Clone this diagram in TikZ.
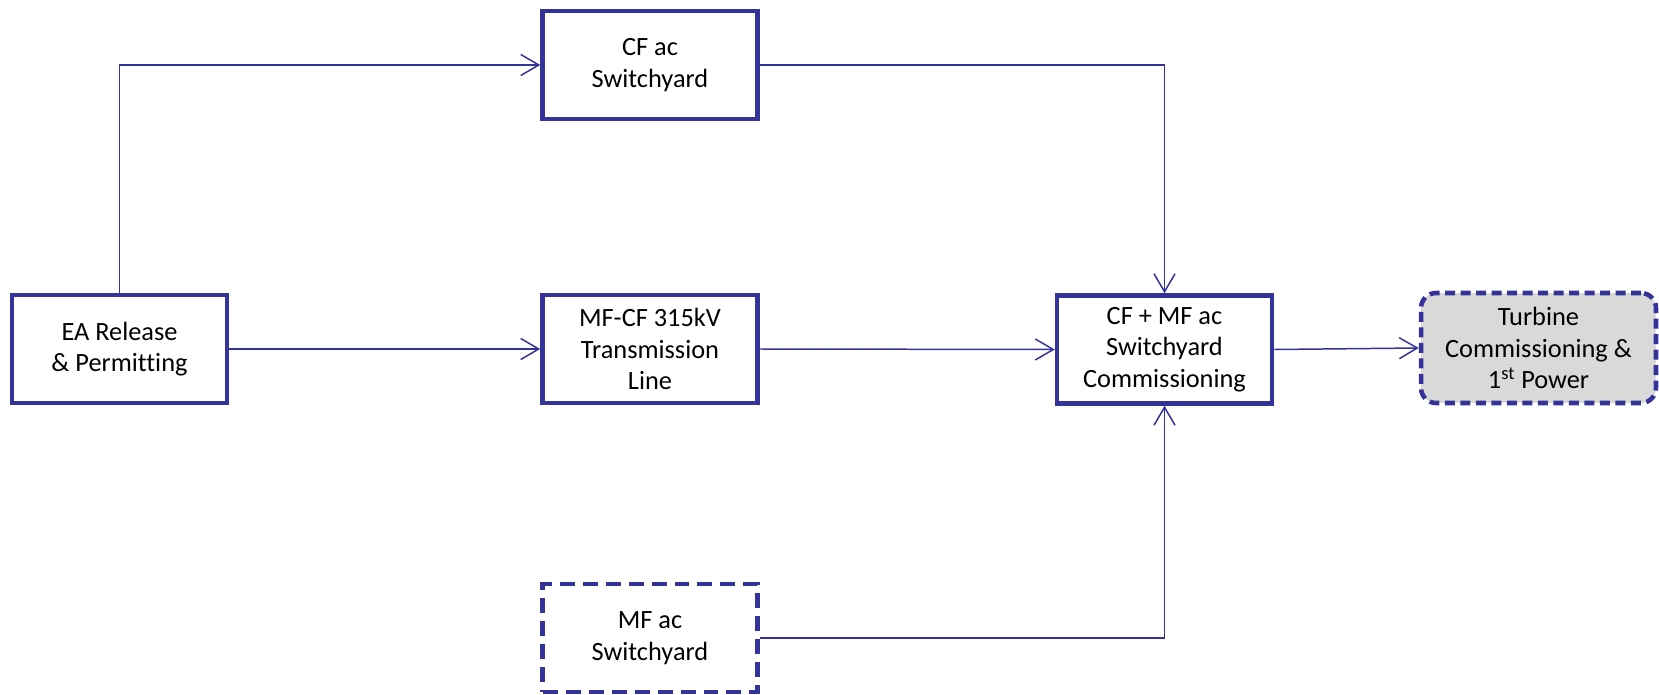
\documentclass[tikz,border=0pt]{standalone}
\usepackage{fontspec}
\setmainfont[Ligatures=NoCommon]{Carlito}
\usepackage{tikz}
\usetikzlibrary{arrows.meta}
\definecolor{boxblue}{RGB}{51,51,153}
\definecolor{boxgray}{RGB}{217,217,217}
\tikzset{
  blk/.style={draw=boxblue, line width=2.6pt, fill=white, align=center,
    minimum width=4.3cm, minimum height=2.16cm, inner sep=2pt,
    font=\fontsize{15}{18}\selectfont},
  dashblk/.style={blk, dash pattern=on 0.3cm off 0.16cm},
  endblk/.style={blk, fill=boxgray, rounded corners=0.3cm,
    minimum width=4.7cm, minimum height=2.2cm, dash pattern=on 0.2cm off 0.11cm},
  link/.style={draw=boxblue, line width=0.85pt,
    -{Straight Barb[length=0.36cm, width=0.42cm, line width=0.85pt]}}
}

\begin{document}
\begin{tikzpicture}[x=0.02cm, y=-0.02cm]
    \useasboundingbox (0,0) rectangle (1659,695);

    %nodes
    \node[blk] (ea) at (119.5,349) {EA Release\\\& Permitting};
    \node[blk] (cfac) at (650,65) {CF ac\\Switchyard};
    \node[blk] (line) at (650,349) {MF-CF 315kV\\Transmission\\Line};
    \node[blk] (comm) at (1164.5,349.5) {CF + MF ac\\Switchyard\\Commissioning};
    \node[endblk] (turb) at (1538.5,348) {Turbine\\Commissioning \&\\1\textsuperscript{st} Power};
    \node[dashblk] (mfac) at (650,638) {MF ac\\Switchyard};

    %edges
    \draw[link] (ea.north) |- (cfac.west);
    \draw[link] (ea.east) -- (line.west);
    \draw[link] (cfac.east) -| (comm.north);
    \draw[link] (line.east) -- (comm.west);
    \draw[link] (mfac.east) -| (comm.south);
    \draw[link] (comm.east) -- (turb.west);
\end{tikzpicture}
\end{document}
